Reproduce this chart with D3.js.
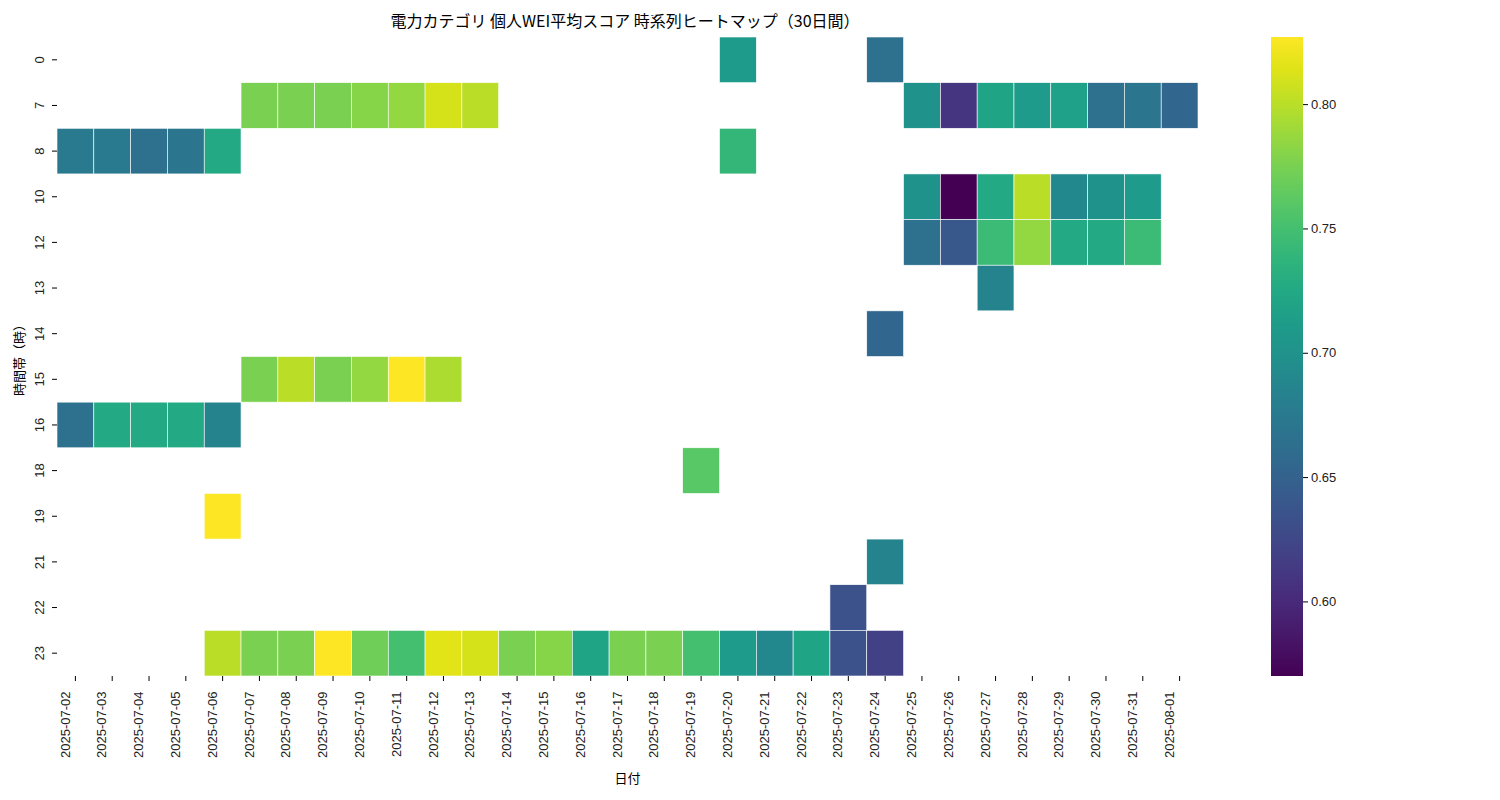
<!DOCTYPE html>
<html><head><meta charset="utf-8">
<script src="https://cdn.jsdelivr.net/npm/d3@7"></script>
<style>body{margin:0;background:#fff;font-family:"Noto Sans CJK JP","DejaVu Sans",sans-serif;}</style>
</head><body><svg id="c" width="1500" height="800"></svg>
<script>
const dates = ["2025-07-02","2025-07-03","2025-07-04","2025-07-05","2025-07-06","2025-07-07","2025-07-08","2025-07-09","2025-07-10","2025-07-11","2025-07-12","2025-07-13","2025-07-14","2025-07-15","2025-07-16","2025-07-17","2025-07-18","2025-07-19","2025-07-20","2025-07-21","2025-07-22","2025-07-23","2025-07-24","2025-07-25","2025-07-26","2025-07-27","2025-07-28","2025-07-29","2025-07-30","2025-07-31","2025-08-01"];
const hours = ["0","7","8","10","12","13","14","15","16","18","19","21","22","23"];
const colorTicks = [0.60,0.65,0.70,0.75,0.80];
// [hour, date, value]
const cells = [
["0","2025-07-20",0.71],["0","2025-07-24",0.665],
["7","2025-07-07",0.775],["7","2025-07-08",0.775],["7","2025-07-09",0.775],["7","2025-07-10",0.78],["7","2025-07-11",0.785],["7","2025-07-12",0.81],["7","2025-07-13",0.80],
["7","2025-07-25",0.70],["7","2025-07-26",0.61],["7","2025-07-27",0.72],["7","2025-07-28",0.71],["7","2025-07-29",0.715],["7","2025-07-30",0.665],["7","2025-07-31",0.67],["7","2025-08-01",0.655],
["8","2025-07-02",0.675],["8","2025-07-03",0.675],["8","2025-07-04",0.665],["8","2025-07-05",0.67],["8","2025-07-06",0.725],["8","2025-07-20",0.74],
["10","2025-07-25",0.70],["10","2025-07-26",0.57],["10","2025-07-27",0.725],["10","2025-07-28",0.80],["10","2025-07-29",0.69],["10","2025-07-30",0.70],["10","2025-07-31",0.71],
["12","2025-07-25",0.665],["12","2025-07-26",0.64],["12","2025-07-27",0.745],["12","2025-07-28",0.785],["12","2025-07-29",0.725],["12","2025-07-30",0.725],["12","2025-07-31",0.745],
["13","2025-07-27",0.685],
["14","2025-07-24",0.655],
["15","2025-07-07",0.775],["15","2025-07-08",0.80],["15","2025-07-09",0.775],["15","2025-07-10",0.785],["15","2025-07-11",0.827],["15","2025-07-12",0.795],
["16","2025-07-02",0.665],["16","2025-07-03",0.725],["16","2025-07-04",0.725],["16","2025-07-05",0.725],["16","2025-07-06",0.685],
["18","2025-07-19",0.76],
["19","2025-07-06",0.826],
["21","2025-07-24",0.685],
["22","2025-07-23",0.635],
["23","2025-07-06",0.80],["23","2025-07-07",0.775],["23","2025-07-08",0.775],["23","2025-07-09",0.826],["23","2025-07-10",0.77],["23","2025-07-11",0.75],["23","2025-07-12",0.815],["23","2025-07-13",0.81],["23","2025-07-14",0.775],["23","2025-07-15",0.78],["23","2025-07-16",0.72],["23","2025-07-17",0.775],["23","2025-07-18",0.775],["23","2025-07-19",0.75],["23","2025-07-20",0.71],["23","2025-07-21",0.69],["23","2025-07-22",0.72],["23","2025-07-23",0.635],["23","2025-07-24",0.62]
];
const vmin=0.570, vmax=0.827;
const svg=d3.select("#c");
const L=57,R=1198,T=37,B=676;
const x=d3.scaleBand().domain(dates).range([L,R]);
const y=d3.scaleBand().domain(hours).range([T,B]);
const col=d3.scaleSequential(d3.interpolateViridis).domain([vmin,vmax]);
svg.append("g").selectAll("rect").data(cells).join("rect")
 .attr("x",d=>x(d[1])).attr("y",d=>y(d[0])).attr("width",x.bandwidth()).attr("height",y.bandwidth())
 .attr("fill",d=>col(d[2])).attr("stroke","#fff").attr("stroke-width",0.6);
const xa=svg.append("g").attr("transform",`translate(0,${B})`).call(d3.axisBottom(x).tickSize(5).tickPadding(4));
xa.select(".domain").remove();
xa.selectAll("text").attr("transform","rotate(-90)").attr("text-anchor","end").attr("dx","-0.5em").attr("dy","-0.45em").attr("x",-9).attr("y",0).style("font-size","13px").attr("fill","#222");
const ya=svg.append("g").attr("transform",`translate(${L},0)`).call(d3.axisLeft(y).tickSize(5));
ya.select(".domain").remove();
ya.selectAll(".tick text").attr("transform","rotate(-90)").attr("text-anchor","middle").attr("x",0).attr("y",-18).attr("dy","0.35em").style("font-size","13px").attr("fill","#222");
svg.append("text").attr("x",(L+R)/2).attr("y",783).attr("text-anchor","middle").style("font-size","13px").text("日付");
svg.append("text").attr("transform","translate(24,357) rotate(-90)").attr("text-anchor","middle").style("font-size","13px").text("時間帯（時）");
svg.append("text").attr("x",625).attr("y",27).attr("text-anchor","middle").style("font-size","16px").text("電力カテゴリ 個人WEI平均スコア 時系列ヒートマップ（30日間）");
// colorbar
const cx=1271,cw=32;
const cy=d3.scaleLinear().domain([vmin,vmax]).range([B,T]);
const defs=svg.append("defs");
const g=defs.append("linearGradient").attr("id","gr").attr("x1",0).attr("y1",1).attr("x2",0).attr("y2",0);
d3.range(0,1.001,0.05).forEach(t=>g.append("stop").attr("offset",t).attr("stop-color",d3.interpolateViridis(t)));
svg.append("rect").attr("x",cx).attr("y",T).attr("width",cw).attr("height",B-T).attr("fill","url(#gr)");
const ca=svg.append("g").attr("transform",`translate(${cx+cw},0)`).call(d3.axisRight(cy).tickValues(colorTicks).tickFormat(d3.format(".2f")).tickSize(5));
ca.select(".domain").remove();
ca.selectAll("text").style("font-size","13px").attr("fill","#222");
</script></body></html>
